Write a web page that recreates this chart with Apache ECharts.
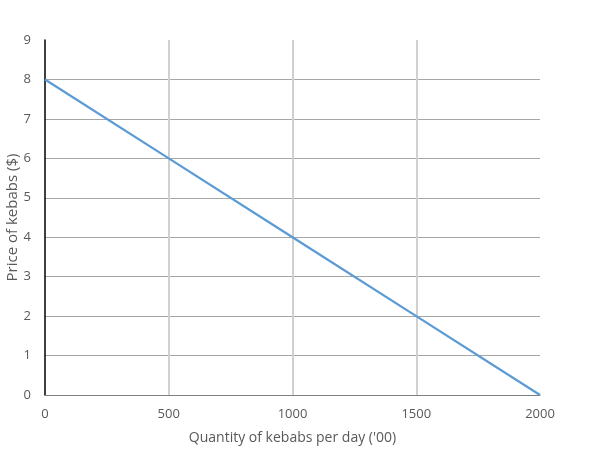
<!DOCTYPE html>
<html>
<head>
<meta charset="utf-8">
<script src="https://cdn.jsdelivr.net/npm/echarts@6/dist/echarts.min.js"></script>
<style>
 html,body{margin:0;padding:0;background:#fff;}
 #main{width:601px;height:474px;}
</style>
</head>
<body>
<div id="main"></div>
<script>
// 数据
var quantity = [0, 500, 1000, 1500, 2000];
var price = [8, 6, 4, 2, 0];
var xTitle = "Quantity of kebabs per day ('00)";
var yTitle = 'Price of kebabs ($)';

var myChart = echarts.init(document.getElementById('main'));
var pts = [];
for (var i = 0; i < quantity.length; i++) {
	pts.push([quantity[i], price[i]]);
}
var font = '"Open Sans", "Liberation Sans", sans-serif';
option = {
	animation: false,
	grid: { left: 45, right: 61, top: 40, bottom: 79, outerBoundsMode: 'none', containLabel: false },
	xAxis: {
		type: 'value',
		min: 0, max: 2000, interval: 500,
		name: xTitle,
		nameLocation: 'middle',
		nameGap: 36,
		nameMoveOverlap: false,
		nameTextStyle: { color: '#595959', fontSize: 14, fontFamily: font },
		axisLine: { show: true, lineStyle: { color: '#7f7f7f', width: 1 } },
		axisTick: { show: false },
		axisLabel: { color: '#595959', fontSize: 13, fontFamily: font, margin: 13,
			formatter: function (v) { return String(v); } },
		splitLine: { show: true, showMinLine: false, showMaxLine: false, lineStyle: { color: '#d0d0d0', width: 2 } }
	},
	yAxis: {
		type: 'value',
		min: 0, max: 9, interval: 1,
		name: yTitle,
		nameLocation: 'middle',
		nameGap: 25,
		nameMoveOverlap: false,
		nameTextStyle: { color: '#595959', fontSize: 15, fontFamily: font },
		axisLine: { show: true, lineStyle: { color: '#000', width: 1.5 } },
		axisTick: { show: false },
		axisLabel: { color: '#595959', fontSize: 13, fontFamily: font, margin: 14 },
		splitLine: { show: true, showMinLine: false, showMaxLine: false, lineStyle: { color: '#a6a6a6', width: 1 } }
	},
	series: [{
		type: 'line',
		data: pts,
		showSymbol: false,
		lineStyle: { color: '#5b9bd5', width: 2.25 }
	}]
};
myChart.setOption(option);
</script>
</body>
</html>
